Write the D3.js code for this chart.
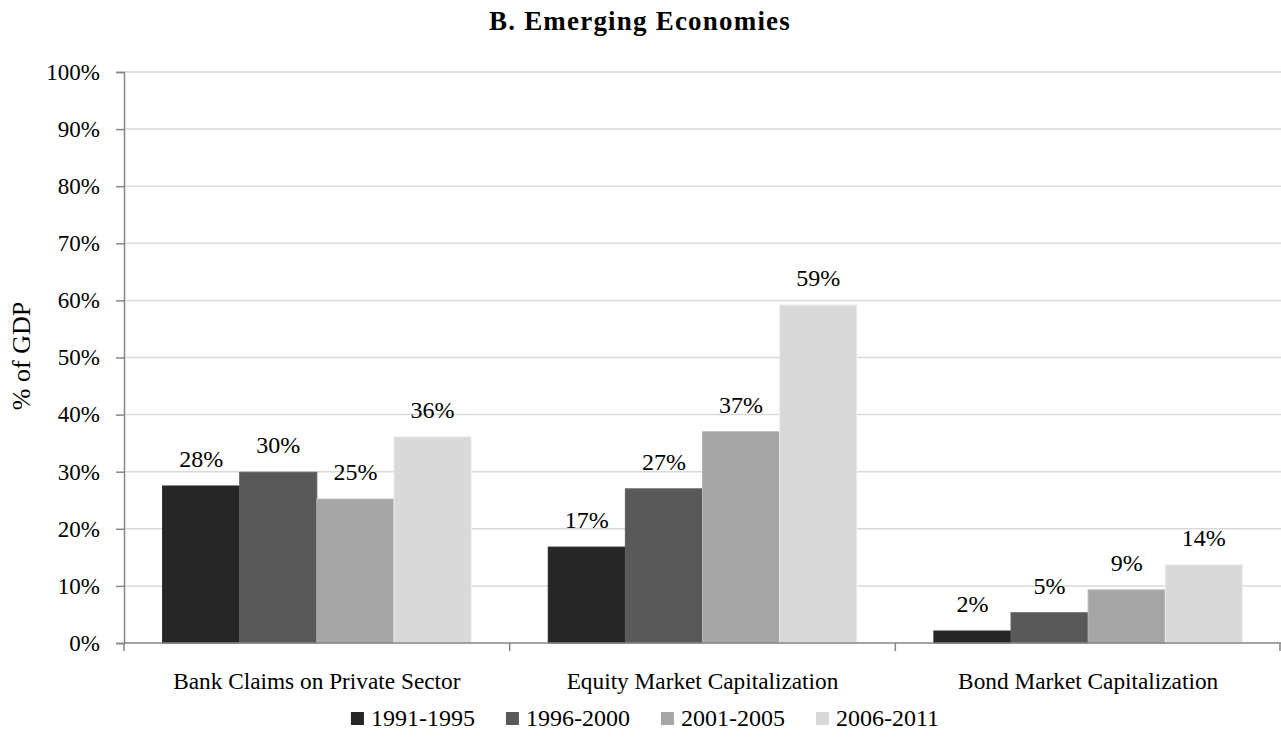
<!DOCTYPE html>
<html>
<head>
<meta charset="utf-8">
<script src="https://cdn.jsdelivr.net/npm/d3@7"></script>
<style>
  body { margin: 0; background: #fff; }
  text { font-family: "Liberation Serif", "DejaVu Serif", serif; fill: #000; }
</style>
</head>
<body>
<svg width="1281" height="738"></svg>
<script>
const categories = ["Bank Claims on Private Sector", "Equity Market Capitalization", "Bond Market Capitalization"];
const periods = ["1991-1995", "1996-2000", "2001-2005", "2006-2011"];
const colors = ["#262626", "#595959", "#a6a6a6", "#d9d9d9"];
// % of GDP, one array per period, in category order
const v1991 = [27.5, 16.8, 2.1];
const v1996 = [29.9, 27.0, 5.3];
const v2001 = [25.2, 37.0, 9.3];
const v2006 = [36.1, 59.2, 13.7];
const series = [v1991, v1996, v2001, v2006];
const yTicks = [0, 10, 20, 30, 40, 50, 60, 70, 80, 90, 100];

const svg = d3.select("svg");
const plotL = 124, plotR = 1281, plotT = 72, plotB = 643;

const x0 = d3.scaleBand().domain(categories).range([plotL, plotR]);
const x1 = d3.scaleBand().domain(periods).range([0, x0.bandwidth()]).paddingOuter(0.5).paddingInner(0);
const y = d3.scaleLinear().domain([0, 100]).range([plotB, plotT]);

// gridlines
svg.append("g").selectAll("line").data(yTicks.slice(1)).join("line")
  .attr("x1", plotL).attr("x2", plotR)
  .attr("y1", d => y(d)).attr("y2", d => y(d))
  .attr("stroke", "#d9d9d9").attr("stroke-width", 1.5);

// y axis
const yAxis = svg.append("g").attr("transform", `translate(${plotL},0)`)
  .call(d3.axisLeft(y).tickValues(yTicks).tickFormat(d => d + "%").tickSize(8).tickPadding(16));
yAxis.select(".domain").attr("stroke", "#868686").attr("stroke-width", 1.5);
yAxis.selectAll(".tick line").attr("stroke", "#868686").attr("stroke-width", 1.5);
yAxis.selectAll(".tick text").attr("font-size", 23).attr("font-family", "Liberation Serif")
  .attr("fill", "#000");

// bars
const groups = svg.append("g").selectAll("g").data(categories).join("g")
  .attr("transform", d => `translate(${x0(d)},0)`);

groups.selectAll("rect").data((c, ci) => periods.map((p, pi) => ({ p, pi, v: series[pi][ci] })))
  .join("rect")
  .attr("x", d => x1(d.p))
  .attr("width", x1.bandwidth())
  .attr("y", d => y(d.v))
  .attr("height", d => y(0) - y(d.v))
  .attr("fill", d => colors[d.pi])
  .attr("stroke", d => d3.color(colors[d.pi]).brighter(0.25))
  .attr("stroke-width", 1);

groups.selectAll("text.lbl").data((c, ci) => periods.map((p, pi) => ({ p, pi, v: series[pi][ci] })))
  .join("text")
  .attr("class", "lbl")
  .attr("x", d => x1(d.p) + x1.bandwidth() / 2)
  .attr("y", d => y(d.v) - 19)
  .attr("text-anchor", "middle")
  .attr("font-size", 24)
  .text(d => Math.round(d.v) + "%");

// x axis
const xAxisG = svg.append("g");
xAxisG.append("line").attr("x1", plotL).attr("x2", plotR).attr("y1", plotB).attr("y2", plotB)
  .attr("stroke", "#868686").attr("stroke-width", 1.5);
xAxisG.selectAll("line.tk").data(categories.map(c => x0(c)).concat([plotR - 1])).join("line")
  .attr("class", "tk")
  .attr("x1", d => d).attr("x2", d => d)
  .attr("y1", plotB).attr("y2", plotB + 8)
  .attr("stroke", "#868686").attr("stroke-width", 1.5);
xAxisG.selectAll("text").data(categories).join("text")
  .attr("x", d => x0(d) + x0.bandwidth() / 2)
  .attr("y", 689)
  .attr("text-anchor", "middle")
  .attr("font-size", 23.3)
  .text(d => d);

// title
svg.append("text").attr("x", 640).attr("y", 30).attr("text-anchor", "middle")
  .attr("font-size", 27).attr("font-weight", "bold").attr("letter-spacing", 1.2)
  .text("B. Emerging Economies");

// y title
svg.append("text").attr("transform", `translate(30,356) rotate(-90)`)
  .attr("text-anchor", "middle").attr("font-size", 26).text("% of GDP");

// legend
const legend = svg.append("g");
const items = legend.selectAll("g").data(periods).join("g");
items.append("rect").attr("width", 13).attr("height", 13).attr("y", -14)
  .attr("fill", (d, i) => colors[i]);
items.append("text").attr("x", 20).attr("font-size", 24).text(d => d);
let lx = 0;
items.each(function () {
  d3.select(this).attr("transform", `translate(${lx},0)`);
  lx += this.getBBox().width + 31;
});
lx -= 31;
legend.attr("transform", `translate(${645 - lx / 2},726)`);
</script>
</body>
</html>
